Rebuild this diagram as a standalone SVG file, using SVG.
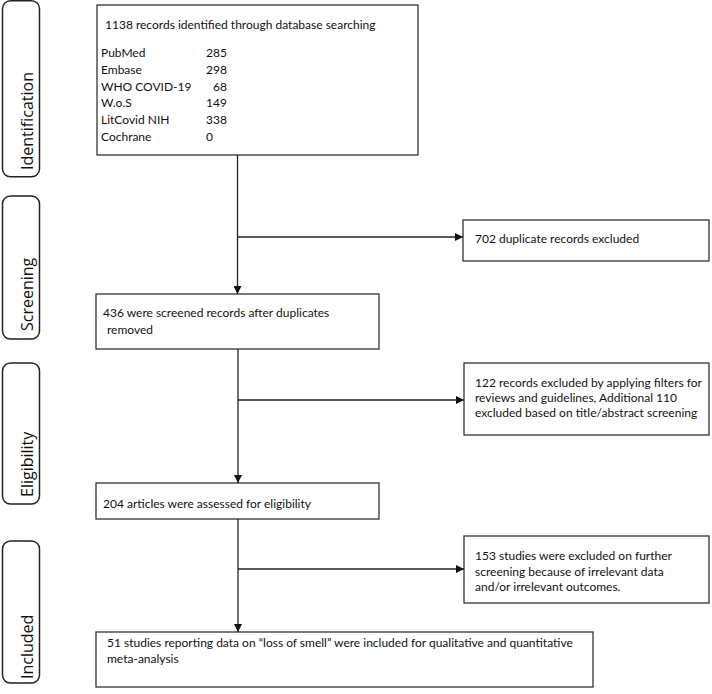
<svg xmlns="http://www.w3.org/2000/svg" width="712" height="694" viewBox="0 0 712 694">
<style>
.stage{fill:#fff;stroke:#222;stroke-width:1.5}
.box{fill:#fff;stroke:#333;stroke-width:1.3}
.lbl{font-family:"Open Sans","DejaVu Sans",sans-serif;font-size:16px;fill:#111}
.t{font-family:Lato,"Liberation Sans",sans-serif;font-size:12px;fill:#111}
.conn{stroke:#222;stroke-width:1.3;fill:none}
</style>
<defs>
<marker id="ah" viewBox="0 0 10 10" refX="10" refY="5" markerWidth="8" markerHeight="8" markerUnits="userSpaceOnUse" orient="auto">
<path d="M0,0 L10,5 L0,10 z" fill="#111"/>
</marker>
</defs>
<g id="stage-identification"><rect class="stage" x="2.5" y="0.75" width="37" height="176" rx="8"/><text class="lbl" transform="translate(33,170) rotate(-90)">Identification</text></g>
<g id="stage-screening"><rect class="stage" x="2.5" y="196" width="37" height="143" rx="8"/><text class="lbl" transform="translate(33,331) rotate(-90)">Screening</text></g>
<g id="stage-eligibility"><rect class="stage" x="2.5" y="363" width="37" height="141" rx="8"/><text class="lbl" transform="translate(33,497) rotate(-90)">Eligibility</text></g>
<g id="stage-included"><rect class="stage" x="2.5" y="541" width="37" height="142" rx="8"/><text class="lbl" transform="translate(33,679) rotate(-90)">Included</text></g>
<g id="identified"><rect class="box" x="97" y="5" width="321" height="150"/>
<text class="t" x="105" y="29">1138 records identified through database searching</text>
<text class="t" x="101" y="57">PubMed</text><text class="t" x="206" y="57">285</text>
<text class="t" x="101" y="74">Embase</text><text class="t" x="206" y="74">298</text>
<text class="t" x="101" y="90.5">WHO COVID-19</text><text class="t" x="213" y="90.5">68</text>
<text class="t" x="101" y="107">W.o.S</text><text class="t" x="206" y="107">149</text>
<text class="t" x="101" y="124">LitCovid NIH</text><text class="t" x="206" y="124">338</text>
<text class="t" x="101" y="140.5">Cochrane</text><text class="t" x="206" y="140.5">0</text>
</g>
<g id="duplicates"><rect class="box" x="463" y="220" width="246" height="41"/><text class="t" x="475" y="243">702 duplicate records excluded</text></g>
<g id="screened"><rect class="box" x="96" y="294" width="283" height="55"/><text class="t" x="103" y="317">436 were screened records after duplicates</text><text class="t" x="107" y="334">removed</text></g>
<g id="excluded1"><rect class="box" x="464" y="363" width="245" height="72"/><text class="t" x="475" y="387">122 records excluded by applying filters for</text><text class="t" x="475" y="402">reviews and guidelines, Additional 110</text><text class="t" x="475" y="417">excluded based on title/abstract screening</text></g>
<g id="assessed"><rect class="box" x="96" y="483" width="283" height="36"/><text class="t" x="103" y="508">204 articles were assessed for eligibility</text></g>
<g id="excluded2"><rect class="box" x="464" y="536" width="245" height="67"/><text class="t" x="475" y="560">153 studies were excluded on further</text><text class="t" x="475" y="575.5">screening because of irrelevant data</text><text class="t" x="475" y="591">and/or irrelevant outcomes.</text></g>
<g id="included"><rect class="box" x="96" y="632" width="497" height="55"/><text class="t" x="107" y="647">51 studies reporting data on “loss of smell” were included for qualitative and quantitative</text><text class="t" x="107" y="663">meta-analysis</text></g>
<g id="connectors">
<line class="conn" x1="237.5" y1="155" x2="237.5" y2="294" marker-end="url(#ah)"/>
<line class="conn" x1="237.5" y1="237" x2="463" y2="237" marker-end="url(#ah)"/>
<line class="conn" x1="238" y1="349" x2="238" y2="483" marker-end="url(#ah)"/>
<line class="conn" x1="238" y1="400" x2="464" y2="400" marker-end="url(#ah)"/>
<line class="conn" x1="238" y1="519" x2="238" y2="632" marker-end="url(#ah)"/>
<line class="conn" x1="238" y1="569" x2="464" y2="569" marker-end="url(#ah)"/>
</g>
</svg>
